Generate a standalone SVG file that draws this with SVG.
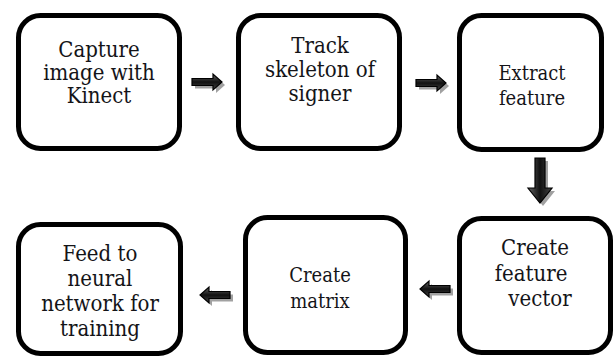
<svg xmlns="http://www.w3.org/2000/svg" width="616" height="358" viewBox="0 0 616 358">
<style>
.box{fill:#fff;stroke:#000;stroke-width:5}
text{font-family:'DejaVu Serif',serif;font-stretch:condensed;font-size:22px;fill:#141418;text-anchor:middle}
.s{font-size:20px}
.arr{fill:url(#g);stroke:#000;stroke-width:1.2}
.sh{fill:#8a8a8a;opacity:0.8}
</style>
<defs>
<linearGradient id="g" x1="0" y1="0" x2="0" y2="1">
<stop offset="0" stop-color="#666"/>
<stop offset="0.5" stop-color="#111"/>
<stop offset="1" stop-color="#444"/>
</linearGradient>
<linearGradient id="gv" x1="0" y1="0" x2="1" y2="0">
<stop offset="0" stop-color="#666"/>
<stop offset="0.5" stop-color="#111"/>
<stop offset="1" stop-color="#444"/>
</linearGradient>
<path id="ha" d="M0,-3.5 H21 V-8 L30,0 L21,8 V3.5 H0 Z"/>
<path id="va" d="M-5,0 V30 H-12 L0,45 L12,30 H5 V0 Z"/>
</defs>
<rect width="616" height="358" fill="#fff"/>
<g id="connectors">
<use href="#ha" class="sh" transform="translate(195,85)"/>
<use href="#ha" class="arr" transform="translate(192,82)"/>
<use href="#ha" class="sh" transform="translate(419,86)"/>
<use href="#ha" class="arr" transform="translate(416,83)"/>
<use href="#va" class="sh" transform="translate(543,161)"/>
<use href="#va" transform="translate(540,158)" style="fill:url(#gv);stroke:#000;stroke-width:1.2"/>
<use href="#ha" class="sh" transform="translate(453,292) scale(-1,1)"/>
<use href="#ha" class="arr" transform="translate(450,289) scale(-1,1)"/>
<use href="#ha" class="sh" transform="translate(233,298) scale(-1,1)"/>
<use href="#ha" class="arr" transform="translate(230,295) scale(-1,1)"/>
</g>
<g id="n1">
<rect class="box" x="18.5" y="15.5" width="161" height="133" rx="22"/>
<text><tspan x="99" y="57">Capture</tspan><tspan x="99" y="80">image with</tspan><tspan x="99" y="103">Kinect</tspan></text>
</g>
<g id="n2">
<rect class="box" x="238.5" y="15.5" width="161" height="133" rx="22"/>
<text><tspan x="320" y="53">Track</tspan><tspan x="320" y="77">skeleton of</tspan><tspan x="320" y="101">signer</tspan></text>
</g>
<g id="n3">
<rect class="box" x="459.5" y="15.5" width="142" height="134" rx="22"/>
<text class="s"><tspan x="532" y="80">Extract</tspan><tspan x="532" y="105">feature</tspan></text>
</g>
<g id="n6">
<rect class="box" x="459.5" y="218.5" width="151" height="134" rx="22"/>
<text><tspan x="535" y="255">Create</tspan><tspan x="531" y="281">feature</tspan><tspan x="540" y="306">vector</tspan></text>
</g>
<g id="n5">
<rect class="box" x="245.5" y="217.5" width="160" height="135" rx="22"/>
<text class="s"><tspan x="320" y="282">Create</tspan><tspan x="320" y="308">matrix</tspan></text>
</g>
<g id="n4">
<rect class="box" x="18.5" y="224.5" width="162" height="129" rx="22"/>
<text><tspan x="100" y="261">Feed to</tspan><tspan x="100" y="286">neural</tspan><tspan x="100" y="311">network for</tspan><tspan x="100" y="336">training</tspan></text>
</g>
</svg>
